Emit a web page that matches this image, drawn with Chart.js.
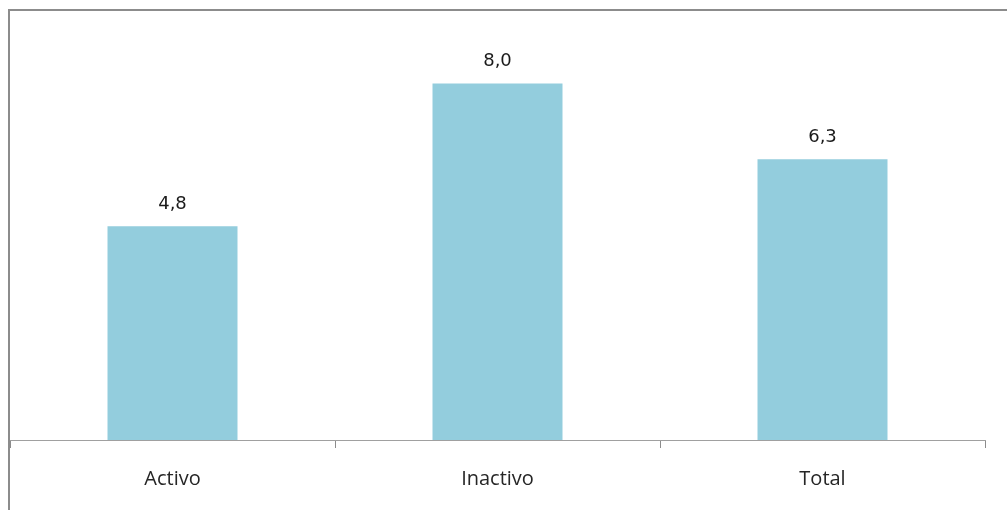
<!DOCTYPE html>
<html>
<head>
<meta charset="utf-8">
<script src="https://cdn.jsdelivr.net/npm/chart.js@4/dist/chart.umd.min.js"></script>
<style>
  html, body { margin: 0; padding: 0; background: #fff; }
  #wrap { position: relative; width: 1007px; height: 510px; }
</style>
</head>
<body>
<div id="wrap"><canvas id="c" width="1007" height="510"></canvas></div>
<script>
const categories = ["Activo", "Inactivo", "Total"];
const values = [4.8, 8.0, 6.3];
const valueLabels = ["4,8", "8,0", "6,3"];
const yMin = 0;
const yMax = 9;

const framePlugin = {
  id: 'frame',
  beforeDraw(chart) {
    const ctx = chart.ctx;
    ctx.save();
    ctx.strokeStyle = '#8c8c8c';
    ctx.lineWidth = 2;
    ctx.beginPath();
    ctx.moveTo(9, 510);
    ctx.lineTo(9, 10);
    ctx.lineTo(1007, 10);
    ctx.stroke();
    ctx.restore();
  }
};

const labelPlugin = {
  id: 'valueLabels',
  afterDatasetsDraw(chart) {
    const ctx = chart.ctx;
    const meta = chart.getDatasetMeta(0);
    ctx.save();
    ctx.font = '18px "DejaVu Sans"';
    ctx.fillStyle = '#1a1a1a';
    ctx.textAlign = 'center';
    ctx.textBaseline = 'middle';
    meta.data.forEach((bar, i) => {
      ctx.fillText(valueLabels[i], bar.x, bar.y - 22);
    });
    ctx.restore();
  }
};

new Chart(document.getElementById('c'), {
  type: 'bar',
  data: {
    labels: categories,
    datasets: [{
      data: values,
      backgroundColor: '#93CDDD',
      borderWidth: 0,
      categoryPercentage: 1.0,
      barPercentage: 0.4
    }]
  },
  options: {
    responsive: false,
    animation: false,
    devicePixelRatio: 1,
    layout: { padding: { left: 10, right: 22, top: 39, bottom: 0 } },
    plugins: { legend: { display: false }, tooltip: { enabled: false } },
    scales: {
      y: { display: false, min: yMin, max: yMax },
      x: {
        grid: {
          offset: true,
          drawOnChartArea: false,
          drawTicks: true,
          tickLength: 8,
          color: '#8c8c8c',
          lineWidth: 1
        },
        border: { display: true, color: '#a0a0a0', width: 1 },
        ticks: {
          color: '#262626',
          padding: 19,
          font: { family: '"Open Sans", sans-serif', size: 20 }
        }
      }
    }
  },
  plugins: [framePlugin, labelPlugin]
});
</script>
</body>
</html>
